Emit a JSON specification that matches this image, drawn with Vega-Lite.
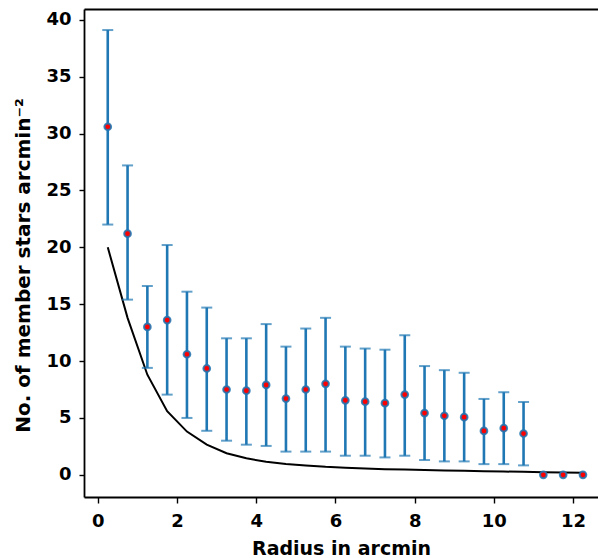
{
  "$schema": "https://vega.github.io/schema/vega-lite/v6.json",
  "width": 514,
  "height": 488,
  "autosize": "none",
  "padding": {"left": 84, "top": 9, "right": 0, "bottom": 61},
  "background": "white",
  "data": {
    "values": [
      {"r": 0.25, "n": 30.6, "lo": 22.0, "hi": 39.1, "model": 20.0},
      {"r": 0.75, "n": 21.2, "lo": 15.4, "hi": 27.2, "model": 13.8},
      {"r": 1.25, "n": 13.0, "lo": 9.4, "hi": 16.6, "model": 8.8},
      {"r": 1.75, "n": 13.6, "lo": 7.05, "hi": 20.2, "model": 5.6},
      {"r": 2.25, "n": 10.6, "lo": 5.0, "hi": 16.1, "model": 3.8},
      {"r": 2.75, "n": 9.35, "lo": 3.87, "hi": 14.7, "model": 2.65},
      {"r": 3.25, "n": 7.5, "lo": 3.0, "hi": 12.0, "model": 1.9},
      {"r": 3.75, "n": 7.4, "lo": 2.65, "hi": 12.0, "model": 1.45},
      {"r": 4.25, "n": 7.9, "lo": 2.54, "hi": 13.25, "model": 1.15},
      {"r": 4.75, "n": 6.7, "lo": 2.04, "hi": 11.27, "model": 0.95},
      {"r": 5.25, "n": 7.5, "lo": 2.04, "hi": 12.86, "model": 0.82},
      {"r": 5.75, "n": 8.0, "lo": 2.04, "hi": 13.8, "model": 0.7},
      {"r": 6.25, "n": 6.55, "lo": 1.68, "hi": 11.27, "model": 0.63},
      {"r": 6.75, "n": 6.43, "lo": 1.68, "hi": 11.1, "model": 0.56},
      {"r": 7.25, "n": 6.3, "lo": 1.53, "hi": 11.0, "model": 0.5},
      {"r": 7.75, "n": 7.05, "lo": 1.68, "hi": 12.27, "model": 0.46},
      {"r": 8.25, "n": 5.43, "lo": 1.3, "hi": 9.56, "model": 0.42},
      {"r": 8.75, "n": 5.19, "lo": 1.18, "hi": 9.2, "model": 0.38},
      {"r": 9.25, "n": 5.07, "lo": 1.18, "hi": 8.97, "model": 0.35},
      {"r": 9.75, "n": 3.86, "lo": 0.94, "hi": 6.67, "model": 0.32},
      {"r": 10.25, "n": 4.1, "lo": 0.94, "hi": 7.26, "model": 0.29},
      {"r": 10.75, "n": 3.63, "lo": 0.83, "hi": 6.4, "model": 0.26},
      {"r": 11.25, "n": 0, "lo": null, "hi": null, "model": 0.23},
      {"r": 11.75, "n": 0, "lo": null, "hi": null, "model": 0.21},
      {"r": 12.25, "n": 0, "lo": null, "hi": null, "model": 0.19}
    ]
  },
  "resolve": {"axis": {"x": "independent"}},
  "layer": [
    {
      "mark": {"type": "line", "color": "black", "strokeWidth": 2},
      "encoding": {
        "x": {"field": "r", "type": "quantitative", "scale": {"domain": [-0.35, 12.63], "nice": false, "zero": false},
              "axis": {"orient": "bottom", "title": "Radius in arcmin", "values": [0, 2, 4, 6, 8, 10, 12], "labelPadding": 9, "titlePadding": 9, "tickSize": 6}},
        "y": {"field": "model", "type": "quantitative", "scale": {"domain": [-1.95, 40.95], "nice": false, "zero": false},
              "axis": {"title": "No. of member stars arcmin⁻²", "values": [0, 5, 10, 15, 20, 25, 30, 35, 40], "labelPadding": 8, "titlePadding": 12, "tickSize": 5, "titleFontSize": 20, "titleY": 256}}
      }
    },
    {
      "mark": {"type": "rule", "color": "#1f77b4", "strokeWidth": 2.6},
      "encoding": {
        "x": {"field": "r", "type": "quantitative", "axis": null},
        "y": {"field": "lo", "type": "quantitative"},
        "y2": {"field": "hi"}
      }
    },
    {
      "mark": {"type": "tick", "orient": "horizontal", "color": "#1f77b4", "size": 11, "thickness": 2},
      "encoding": {
        "x": {"field": "r", "type": "quantitative", "axis": null},
        "y": {"field": "hi", "type": "quantitative"}
      }
    },
    {
      "mark": {"type": "tick", "orient": "horizontal", "color": "#1f77b4", "size": 11, "thickness": 2},
      "encoding": {
        "x": {"field": "r", "type": "quantitative", "axis": null},
        "y": {"field": "lo", "type": "quantitative"}
      }
    },
    {
      "mark": {"type": "point", "filled": true, "fill": "red", "stroke": "#1f77b4", "strokeWidth": 2, "strokeOpacity": 0.85, "size": 45, "opacity": 1},
      "encoding": {
        "x": {"field": "r", "type": "quantitative",
              "axis": {"orient": "top", "labels": false, "ticks": false, "title": null, "domain": true}},
        "y": {"field": "n", "type": "quantitative"}
      }
    }
  ],
  "config": {
    "view": {"stroke": null},
    "axis": {
      "grid": false,
      "domainColor": "black",
      "domainWidth": 1.8,
      "tickColor": "black",
      "tickWidth": 1.4,
      "labelFont": "DejaVu Sans",
      "labelFontWeight": "bold",
      "labelFontSize": 18,
      "labelColor": "black",
      "titleFont": "DejaVu Sans",
      "titleFontWeight": "bold",
      "titleFontSize": 19,
      "titleColor": "black"
    }
  }
}
